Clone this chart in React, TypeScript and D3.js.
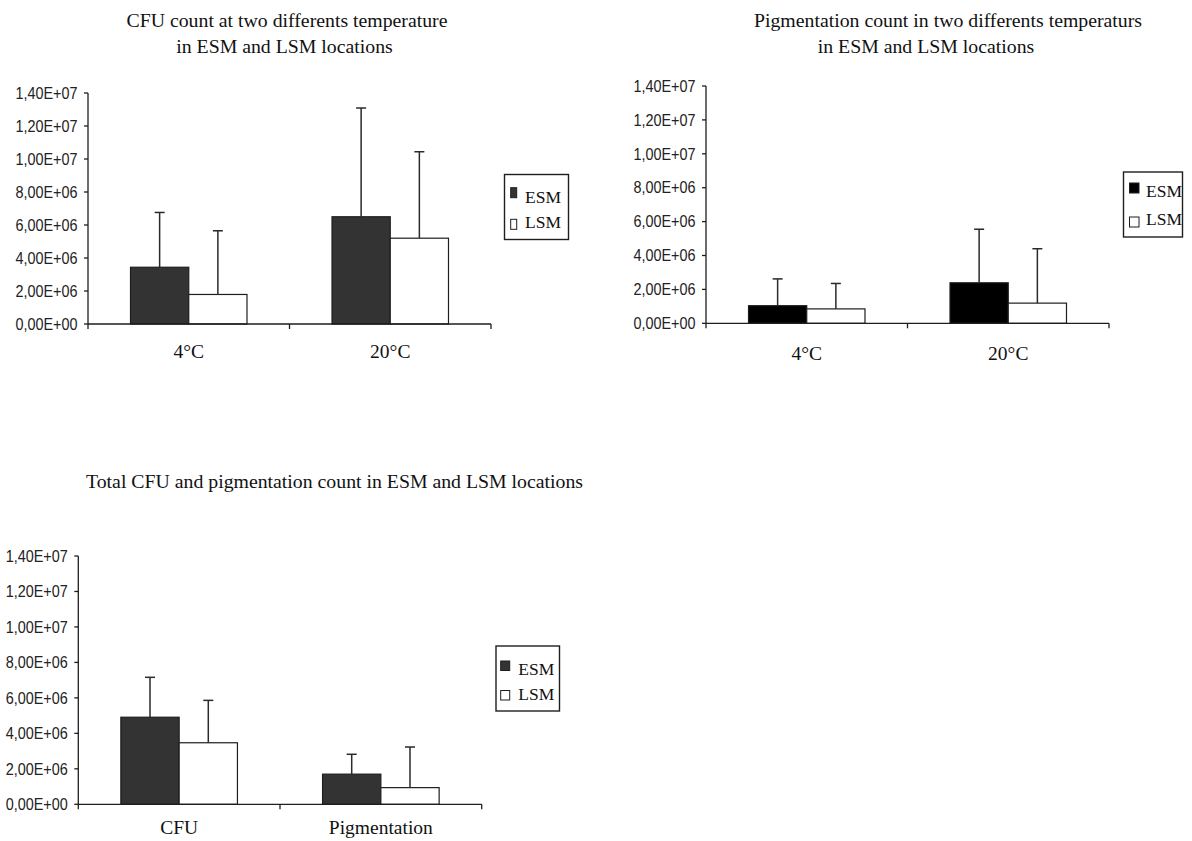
import React from "react";
import * as d3 from "d3";

// ---------- DATA ----------
const seriesNames = ["ESM", "LSM"];
const tempCategories = ["4°C", "20°C"];
const totalCategories = ["CFU", "Pigmentation"];

// CFU count at two temperatures
const cfuEsmMean = [3.44e6, 6.5e6];
const cfuEsmErr = [3.32e6, 6.59e6];
const cfuLsmMean = [1.79e6, 5.2e6];
const cfuLsmErr = [3.86e6, 5.24e6];

// Pigmentation count at two temperatures
const pigEsmMean = [1.04e6, 2.39e6];
const pigEsmErr = [1.58e6, 3.16e6];
const pigLsmMean = [0.85e6, 1.19e6];
const pigLsmErr = [1.5e6, 3.21e6];

// Totals
const totEsmMean = [4.91e6, 1.7e6];
const totEsmErr = [2.25e6, 1.12e6];
const totLsmMean = [3.47e6, 0.94e6];
const totLsmErr = [2.39e6, 2.29e6];

const yTickValues = [0, 2e6, 4e6, 6e6, 8e6, 10e6, 12e6, 14e6];
const yTickLabels = [
  "0,00E+00",
  "2,00E+06",
  "4,00E+06",
  "6,00E+06",
  "8,00E+06",
  "1,00E+07",
  "1,20E+07",
  "1,40E+07",
];

// ---------- LAYOUT ----------
type TitleLine = { text: string; cx: number; y: number };
type Legend = {
  box: [number, number, number, number];
  sw: number;
  sh: number;
  swX: number;
  swY: [number, number];
  textX: number;
  textY: [number, number];
};
type PanelCfg = {
  categories: string[];
  esm: number[];
  esmErr: number[];
  lsm: number[];
  lsmErr: number[];
  axisX: number;
  xEnd: number;
  yTop: number;
  yBottom: number;
  esmFill: string;
  titles: TitleLine[];
  catY: number;
  legend: Legend;
};

const INK = "#1e1e1e";
const SERIF = "'Liberation Serif', 'Times New Roman', serif";
const SANS = "'Liberation Sans', Arial, sans-serif";

const panels: PanelCfg[] = [
  {
    categories: tempCategories,
    esm: cfuEsmMean,
    esmErr: cfuEsmErr,
    lsm: cfuLsmMean,
    lsmErr: cfuLsmErr,
    axisX: 88,
    xEnd: 491,
    yTop: 93,
    yBottom: 324,
    esmFill: "#333333",
    titles: [
      { text: "CFU count at two differents temperature", cx: 287, y: 27 },
      { text: "in ESM and LSM locations", cx: 284.5, y: 53 },
    ],
    catY: 358,
    legend: {
      box: [504.5, 174.5, 64, 65],
      sw: 6,
      sh: 10,
      swX: 510.7,
      swY: [187.7, 219.3],
      textX: 525,
      textY: [202.7, 228.3],
    },
  },
  {
    categories: tempCategories,
    esm: pigEsmMean,
    esmErr: pigEsmErr,
    lsm: pigLsmMean,
    lsmErr: pigLsmErr,
    axisX: 706,
    xEnd: 1109,
    yTop: 86,
    yBottom: 323.3,
    esmFill: "#000000",
    titles: [
      { text: "Pigmentation count in two differents temperaturs", cx: 948, y: 27 },
      { text: "in ESM and LSM locations", cx: 926, y: 53 },
    ],
    catY: 360,
    legend: {
      box: [1123.5, 172, 59, 65],
      sw: 9.5,
      sh: 10,
      swX: 1129.5,
      swY: [183, 217],
      textX: 1146,
      textY: [197.3, 225],
    },
  },
  {
    categories: totalCategories,
    esm: totEsmMean,
    esmErr: totEsmErr,
    lsm: totLsmMean,
    lsmErr: totLsmErr,
    axisX: 78.3,
    xEnd: 481.7,
    yTop: 556,
    yBottom: 804.3,
    esmFill: "#333333",
    titles: [
      { text: "Total CFU and pigmentation count in ESM and LSM locations", cx: 334.5, y: 488 },
    ],
    catY: 833.5,
    legend: {
      box: [496, 646, 63.5, 65],
      sw: 9,
      sh: 9.5,
      swX: 500.7,
      swY: [661, 690.5],
      textX: 518.3,
      textY: [675, 700],
    },
  },
];

function Panel({ cfg }: { cfg: PanelCfg }) {
  const y = d3.scaleLinear().domain([0, 14e6]).range([cfg.yBottom, cfg.yTop]);
  const x0 = d3
    .scaleBand<string>()
    .domain(cfg.categories)
    .range([cfg.axisX, cfg.xEnd])
    .padding(0);
  const x1 = d3
    .scaleBand<string>()
    .domain(seriesNames)
    .range([0, x0.bandwidth()])
    .paddingInner(0)
    .paddingOuter(0.73);

  const means = [cfg.esm, cfg.lsm];
  const errs = [cfg.esmErr, cfg.lsmErr];
  const fills = [cfg.esmFill, "#ffffff"];
  const cap = 5;

  const boundaries = [...cfg.categories.map((c) => x0(c) as number), cfg.xEnd];

  return (
    <g>
      {cfg.titles.map((t, i) => (
        <text
          key={i}
          x={t.cx}
          y={t.y}
          textAnchor="middle"
          fontFamily={SERIF}
          fontSize={19.8}
          fill="#111"
        >
          {t.text}
        </text>
      ))}

      {/* bars */}
      {cfg.categories.map((c, ci) =>
        seriesNames.map((s, si) => {
          const bx = (x0(c) as number) + (x1(s) as number);
          const bw = x1.bandwidth();
          const v = means[si][ci];
          return (
            <rect
              key={c + s}
              x={bx}
              y={y(v)}
              width={bw}
              height={y(0) - y(v)}
              fill={fills[si]}
              stroke={INK}
              strokeWidth={1.2}
            />
          );
        })
      )}

      {/* error bars */}
      {cfg.categories.map((c, ci) =>
        seriesNames.map((s, si) => {
          const cx = (x0(c) as number) + (x1(s) as number) + x1.bandwidth() / 2;
          const v = means[si][ci];
          const top = v + errs[si][ci];
          return (
            <g key={"e" + c + s} stroke="#2a2a2a" strokeWidth={1.5}>
              <line x1={cx} x2={cx} y1={y(v)} y2={y(top)} />
              <line x1={cx - cap} x2={cx + cap} y1={y(top)} y2={y(top)} />
            </g>
          );
        })
      )}

      {/* y axis */}
      <line
        x1={cfg.axisX}
        x2={cfg.axisX}
        y1={cfg.yTop}
        y2={cfg.yBottom}
        stroke={INK}
        strokeWidth={1.3}
      />
      {yTickValues.map((v, i) => (
        <g key={"yt" + i}>
          <line
            x1={cfg.axisX - 4}
            x2={cfg.axisX}
            y1={y(v)}
            y2={y(v)}
            stroke={INK}
            strokeWidth={1.3}
          />
          <text
            transform={`translate(${cfg.axisX - 10.5},${y(v)}) scale(0.9,1)`}
            dy="0.36em"
            textAnchor="end"
            fontFamily={SANS}
            fontSize={16}
            fill="#222"
          >
            {yTickLabels[i]}
          </text>
        </g>
      ))}

      {/* x axis */}
      <line
        x1={cfg.axisX}
        x2={cfg.xEnd}
        y1={cfg.yBottom}
        y2={cfg.yBottom}
        stroke={INK}
        strokeWidth={1.3}
      />
      {boundaries.map((bx, i) => (
        <line
          key={"xt" + i}
          x1={bx}
          x2={bx}
          y1={cfg.yBottom}
          y2={cfg.yBottom + 5}
          stroke={INK}
          strokeWidth={1.3}
        />
      ))}
      {cfg.categories.map((c) => (
        <text
          key={"cl" + c}
          x={(x0(c) as number) + x0.bandwidth() / 2}
          y={cfg.catY}
          textAnchor="middle"
          fontFamily={SERIF}
          fontSize={19.5}
          fill="#111"
        >
          {c}
        </text>
      ))}

      {/* legend */}
      <rect
        x={cfg.legend.box[0]}
        y={cfg.legend.box[1]}
        width={cfg.legend.box[2]}
        height={cfg.legend.box[3]}
        fill="none"
        stroke={INK}
        strokeWidth={1.4}
      />
      {seriesNames.map((s, si) => (
        <g key={"lg" + s}>
          <rect
            x={cfg.legend.swX}
            y={cfg.legend.swY[si]}
            width={cfg.legend.sw}
            height={cfg.legend.sh}
            fill={fills[si]}
            stroke={INK}
            strokeWidth={1}
          />
          <text
            x={cfg.legend.textX}
            y={cfg.legend.textY[si]}
            fontFamily={SERIF}
            fontSize={17.5}
            fill="#111"
          >
            {s}
          </text>
        </g>
      ))}
    </g>
  );
}

export default function App() {
  return (
    <svg
      width={1192}
      height={841}
      style={{ position: "absolute", left: 0, top: 0, background: "#fff" }}
    >
      <rect x={0} y={0} width={1192} height={841} fill="#fff" />
      {panels.map((p, i) => (
        <Panel key={i} cfg={p} />
      ))}
    </svg>
  );
}
